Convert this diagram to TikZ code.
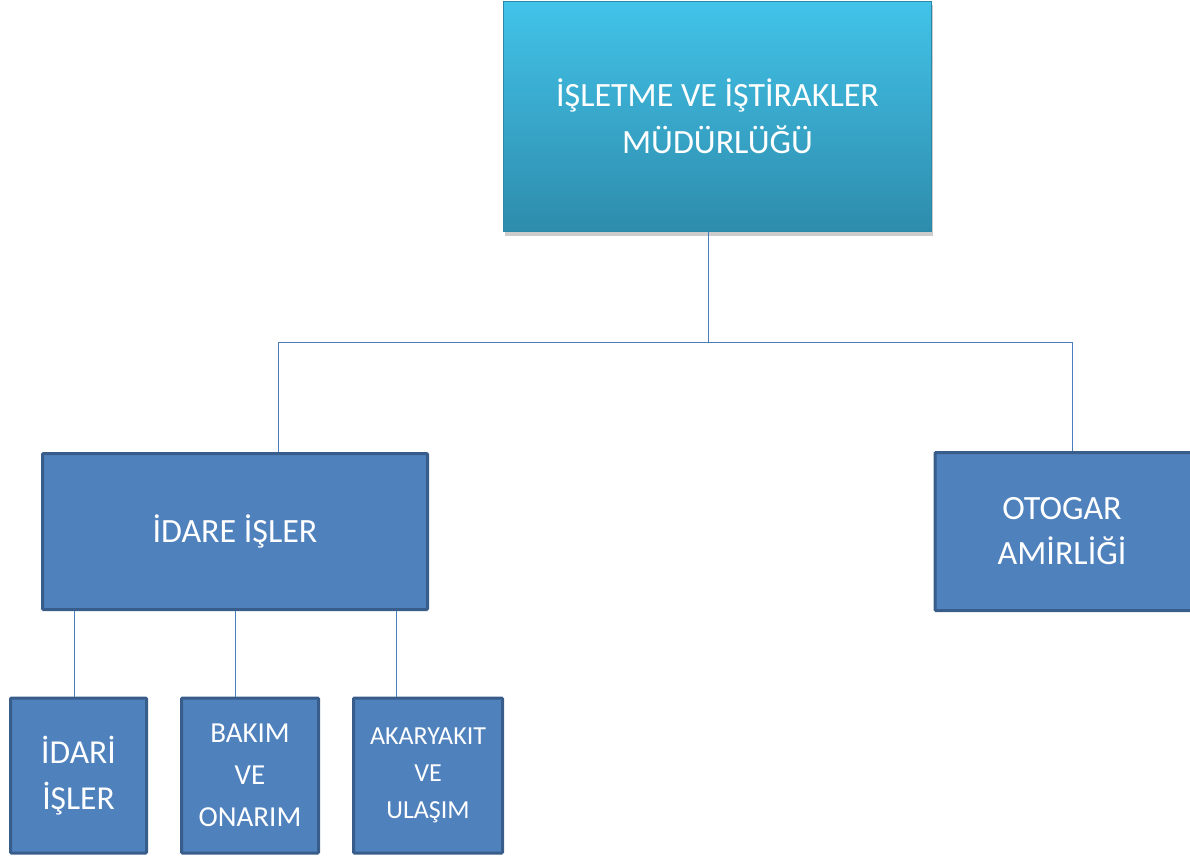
\documentclass[tikz,border=0pt]{standalone}
\usepackage{fontspec}
\setmainfont{Carlito}
\usetikzlibrary{shadows}
\definecolor{boxfill}{HTML}{4F81BD}
\definecolor{boxline}{HTML}{385D8A}
\definecolor{conn}{HTML}{4A7EBB}
\definecolor{toptop}{HTML}{42C3E9}
\definecolor{topbot}{HTML}{2E8CAC}
\definecolor{topline}{HTML}{2B88A8}
\begin{document}
\begin{tikzpicture}[x=1pt,y=-1pt,
  unit/.style={draw=boxline, fill=boxfill, line width=3pt, rounded corners=1pt,
    text=white, align=center, inner sep=0pt},
  head/.style={draw=topline, line width=1.5pt, top color=toptop, bottom color=topbot,
    text=white, align=center, inner sep=0pt,
    drop shadow={shadow xshift=1.5pt, shadow yshift=-4pt, opacity=0.4}},
  link/.style={draw=conn, line width=0.9pt}]
\useasboundingbox (0,0) rectangle (1190,859);

\node[head, minimum width=428pt, minimum height=230pt,
  font=\fontsize{34}{47}\selectfont] (top) at (717.5,116.5)
  {İŞLETME VE İŞTİRAKLER\\MÜDÜRLÜĞÜ};

\node[unit, minimum width=385pt, minimum height=156pt,
  font=\fontsize{34}{45}\selectfont] (idare) at (235,531.5) {İDARE İŞLER};

\node[unit, minimum width=274pt, minimum height=158pt,
  label={[text=white, align=center, font=\fontsize{34}{45}\selectfont, xshift=-10pt]center:OTOGAR\\AMİRLİĞİ}]
  (otogar) at (1072,531.5) {};

\node[unit, minimum width=136pt, minimum height=155pt,
  font=\fontsize{33.5}{46}\selectfont] (b1) at (78.5,775.5) {İDARİ\\İŞLER};
\node[unit, minimum width=137pt, minimum height=155pt,
  font=\fontsize{29}{42}\selectfont] (b2) at (250,775.5) {BAKIM\\VE\\ONARIM};
\node[unit, minimum width=149pt, minimum height=155pt,
  font=\fontsize{26}{37}\selectfont] (b3) at (428,775.5) {AKARYAKIT\\VE\\ULAŞIM};

\coordinate (j) at (708,342);
\coordinate (jl) at (278,342);
\coordinate (jr) at (1072,342);
\draw[link] (top.south -| j) -- (j);
\draw[link] (idare.north -| jl) -- (jl) -- (jr) -- (otogar.north -| jr);

\coordinate (c1) at (74,650);
\coordinate (c2) at (235,650);
\coordinate (c3) at (396,650);
\draw[link] (idare.south -| c1) -- (b1.north -| c1);
\draw[link] (idare.south -| c2) -- (b2.north -| c2);
\draw[link] (idare.south -| c3) -- (b3.north -| c3);
\end{tikzpicture}
\end{document}
